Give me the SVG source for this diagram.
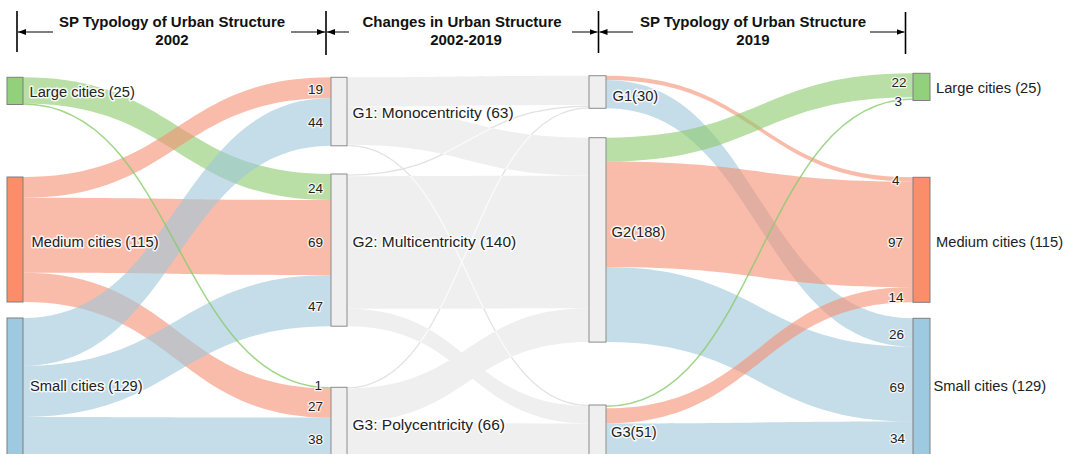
<svg xmlns="http://www.w3.org/2000/svg" width="1071" height="454" viewBox="0 0 1071 454">
<defs>
<marker id="ah" markerUnits="userSpaceOnUse" markerWidth="8" markerHeight="6" refX="8" refY="3" orient="auto"><path d="M0,0 L8,3 L0,6 z" fill="#000"/></marker>
<clipPath id="gclip">
<path d="M 347 77.3 C 468 77.3 468 75.7 589 75.7 L 589 105 C 468 105 468 106.6 347 106.6 Z"/>
<path d="M 347 106.6 C 468 106.6 468 137.7 589 137.7 L 589 175.7 C 468 175.7 468 144.7 347 144.7 Z"/>
<path d="M 347 176.2 C 468 176.2 468 175.7 589 175.7 L 589 308.3 C 468 308.3 468 308.8 347 308.8 Z"/>
<path d="M 347 308.8 C 468 308.8 468 406.1 589 406.1 L 589 423.5 C 468 423.5 468 326.2 347 326.2 Z"/>
<path d="M 347 388.4 C 468 388.4 468 308.3 589 308.3 L 589 342 C 468 342 468 422.1 347 422.1 Z"/>
<path d="M 347 422.1 C 468 422.1 468 423.5 589 423.5 L 589 460.5 C 468 460.5 468 459.1 347 459.1 Z"/>
</clipPath>
<style>
.hd{font-family:"Liberation Sans",Arial,sans-serif;font-weight:bold;font-size:15px;fill:#111;text-anchor:middle}
.br{stroke:#000;stroke-width:1.6}
.ar{stroke:#000;stroke-width:1;marker-end:url(#ah)}
.lg{fill:#8aca6b;fill-opacity:0.6}
.lm{fill:#f58f71;fill-opacity:0.6}
.ls{fill:#9ec6da;fill-opacity:0.6}
.lx{fill:#efefef}
.tg{fill:none;stroke:#8aca6b;stroke-opacity:0.8;stroke-width:1.5}
.tx{fill:none;stroke:#e2e2e2;stroke-width:1.3}
.tw{fill:none;stroke:#fbfbfb;stroke-width:1.2}
.nd{stroke:#7f7f7f;stroke-width:1}
.gn{fill:#efefef;stroke:#8c8c8c;stroke-width:1}
.lb{font-family:"Liberation Sans",Arial,sans-serif;font-size:14.7px;fill:#222;paint-order:stroke;stroke:#fff;stroke-width:3;stroke-opacity:0.85;stroke-linejoin:round}
.lc{font-family:"Liberation Sans",Arial,sans-serif;font-size:15.5px;fill:#222;paint-order:stroke;stroke:#fff;stroke-width:3;stroke-opacity:0.85;stroke-linejoin:round}
.nm{font-family:"Liberation Sans",Arial,sans-serif;font-size:13.5px;fill:#222;text-anchor:end;paint-order:stroke;stroke:#fff;stroke-width:2.5;stroke-opacity:0.8;stroke-linejoin:round}
</style>
</defs>
<rect width="1071" height="454" fill="#fff"/>
<g id="header">
<line class="br" x1="17" y1="11" x2="17" y2="52"/>
<line class="br" x1="326" y1="11" x2="326" y2="55"/>
<line class="br" x1="598.5" y1="11" x2="598.5" y2="53"/>
<line class="br" x1="905.5" y1="12" x2="905.5" y2="54"/>
<line class="ar" x1="53" y1="32" x2="18" y2="32"/>
<line class="ar" x1="291" y1="32" x2="325" y2="32"/>
<line class="ar" x1="349" y1="32" x2="327" y2="32"/>
<line class="ar" x1="572" y1="32" x2="597.5" y2="32"/>
<line class="ar" x1="633" y1="32" x2="599.5" y2="32"/>
<line class="ar" x1="870" y1="32" x2="904.5" y2="32"/>
<text class="hd" x="172" y="27">SP Typology of Urban Structure</text>
<text class="hd" x="172" y="45">2002</text>
<text class="hd" x="462" y="27">Changes in Urban Structure</text>
<text class="hd" x="466" y="45">2002-2019</text>
<text class="hd" x="753" y="27">SP Typology of Urban Structure</text>
<text class="hd" x="753" y="45">2019</text>
</g>
<g id="connectors">
<!-- stage 1 -->
<path class="lg" d="M 23 77.3 C 177 77.3 177 174 331 174 L 331 200.1 C 177 200.1 177 103.4 23 103.4 Z"/>
<path class="lm" d="M 23 177 C 177 177 177 77.3 331 77.3 L 331 98 C 177 98 177 197.7 23 197.7 Z"/>
<path class="lm" d="M 23 197.7 C 177 197.7 177 200.1 331 200.1 L 331 275.1 C 177 275.1 177 272.7 23 272.7 Z"/>
<path class="lm" d="M 23 272.7 C 177 272.7 177 388.4 331 388.4 L 331 417.7 C 177 417.7 177 302 23 302 Z"/>
<path class="ls" d="M 23 318 C 177 318 177 98 331 98 L 331 145.8 C 177 145.8 177 365.8 23 365.8 Z"/>
<path class="ls" d="M 23 365.8 C 177 365.8 177 275.1 331 275.1 L 331 326.2 C 177 326.2 177 416.9 23 416.9 Z"/>
<path class="ls" d="M 23 416.9 C 177 416.9 177 417.7 331 417.7 L 331 459 C 177 459 177 458.2 23 458.2 Z"/>
<path class="tg" d="M 23 104 C 177 104 177 387.9 331 387.9"/>
<!-- stage 2 -->
<path class="tx" d="M 347 145.3 C 468 145.3 468 405.6 589 405.6"/>
<path class="tx" d="M 347 175.1 C 468 175.1 468 106.1 589 106.1"/>
<path class="tx" d="M 347 387.9 C 468 387.9 468 107.8 589 107.8"/>
<path class="lx" d="M 347 77.3 C 468 77.3 468 75.7 589 75.7 L 589 105 C 468 105 468 106.6 347 106.6 Z"/>
<path class="lx" d="M 347 106.6 C 468 106.6 468 137.7 589 137.7 L 589 175.7 C 468 175.7 468 144.7 347 144.7 Z"/>
<path class="lx" d="M 347 176.2 C 468 176.2 468 175.7 589 175.7 L 589 308.3 C 468 308.3 468 308.8 347 308.8 Z"/>
<path class="lx" d="M 347 308.8 C 468 308.8 468 406.1 589 406.1 L 589 423.5 C 468 423.5 468 326.2 347 326.2 Z"/>
<path class="lx" d="M 347 388.4 C 468 388.4 468 308.3 589 308.3 L 589 342 C 468 342 468 422.1 347 422.1 Z"/>
<path class="lx" d="M 347 422.1 C 468 422.1 468 423.5 589 423.5 L 589 460.5 C 468 460.5 468 459.1 347 459.1 Z"/>
<g clip-path="url(#gclip)">
<path class="tw" d="M 347 145.3 C 468 145.3 468 405.6 589 405.6"/>
<path class="tw" d="M 347 175.1 C 468 175.1 468 106.1 589 106.1"/>
<path class="tw" d="M 347 387.9 C 468 387.9 468 107.8 589 107.8"/>
</g>
<!-- stage 3 -->
<path class="lm" d="M 606 75.7 C 759.5 75.7 759.5 177.3 913 177.3 L 913 181.6 C 759.5 181.6 759.5 80 606 80 Z"/>
<path class="ls" d="M 606 80 C 759.5 80 759.5 318.3 913 318.3 L 913 346.6 C 759.5 346.6 759.5 108.3 606 108.3 Z"/>
<path class="lg" d="M 606 137.7 C 759.5 137.7 759.5 73.3 913 73.3 L 913 97.2 C 759.5 97.2 759.5 161.6 606 161.6 Z"/>
<path class="lm" d="M 606 161.6 C 759.5 161.6 759.5 181.6 913 181.6 L 913 287.1 C 759.5 287.1 759.5 267.1 606 267.1 Z"/>
<path class="ls" d="M 606 267.1 C 759.5 267.1 759.5 346.6 913 346.6 L 913 421.6 C 759.5 421.6 759.5 342.1 606 342.1 Z"/>
<path class="lm" d="M 606 408.3 C 759.5 408.3 759.5 287.1 913 287.1 L 913 302.3 C 759.5 302.3 759.5 423.5 606 423.5 Z"/>
<path class="ls" d="M 606 423.5 C 759.5 423.5 759.5 421.6 913 421.6 L 913 458.6 C 759.5 458.6 759.5 460.5 606 460.5 Z"/>
<path class="tg" d="M 606 406.3 C 759.5 406.3 759.5 99 913 99" stroke-width="1.8"/>
<!-- link values -->
<text class="nm" x="323" y="94">19</text>
<text class="nm" x="323" y="127">44</text>
<text class="nm" x="323" y="192.5">24</text>
<text class="nm" x="323" y="246.5">69</text>
<text class="nm" x="323" y="310.5">47</text>
<text class="nm" x="322" y="390">1</text>
<text class="nm" x="323" y="410.5">27</text>
<text class="nm" x="323" y="444">38</text>
<text class="nm" x="906.5" y="87">22</text>
<text class="nm" x="902" y="106">3</text>
<text class="nm" x="899.5" y="185">4</text>
<text class="nm" x="903" y="246.5">97</text>
<text class="nm" x="903.5" y="301.5">14</text>
<text class="nm" x="904" y="339">26</text>
<text class="nm" x="904.5" y="392">69</text>
<text class="nm" x="905" y="443">34</text>
</g>
<g id="n-large-2002"><rect class="nd" x="7" y="77.3" width="16" height="27.2" fill="#93d07c"/><text class="lb" x="29.5" y="97">Large cities (25)</text></g>
<g id="n-medium-2002"><rect class="nd" x="7" y="177" width="16" height="125" fill="#fc8d6a"/><text class="lb" x="31.5" y="247">Medium cities (115)</text></g>
<g id="n-small-2002"><rect class="nd" x="7" y="318" width="16" height="140.2" fill="#9ecae1"/><text class="lb" x="30" y="391">Small cities (129)</text></g>
<g id="n-g1-2002"><rect class="gn" x="331" y="77.3" width="16" height="68.5"/><text class="lc" x="352.5" y="118">G1: Monocentricity (63)</text></g>
<g id="n-g2-2002"><rect class="gn" x="331" y="174" width="16" height="152.2"/><text class="lc" x="352.5" y="247">G2: Multicentricity (140)</text></g>
<g id="n-g3-2002"><rect class="gn" x="331" y="387.3" width="16" height="71.7"/><text class="lc" x="352.5" y="429.5">G3: Polycentricity (66)</text></g>
<g id="n-g1-2019"><rect class="gn" x="589" y="75.7" width="17" height="32.6"/><text class="lb" x="612.5" y="101">G1(30)</text></g>
<g id="n-g2-2019"><rect class="gn" x="589" y="137.7" width="17" height="204.4"/><text class="lb" x="611.5" y="237">G2(188)</text></g>
<g id="n-g3-2019"><rect class="gn" x="589" y="405" width="17" height="55.4"/><text class="lb" x="611" y="437">G3(51)</text></g>
<g id="n-large-2019"><rect class="nd" x="913" y="73.3" width="17" height="27.2" fill="#93d07c"/><text class="lb" x="936" y="93">Large cities (25)</text></g>
<g id="n-medium-2019"><rect class="nd" x="913" y="177.3" width="17" height="125" fill="#fc8d6a"/><text class="lb" x="936" y="247">Medium cities (115)</text></g>
<g id="n-small-2019"><rect class="nd" x="913" y="318.3" width="17" height="140.2" fill="#9ecae1"/><text class="lb" x="933.5" y="391">Small cities (129)</text></g>
</svg>
